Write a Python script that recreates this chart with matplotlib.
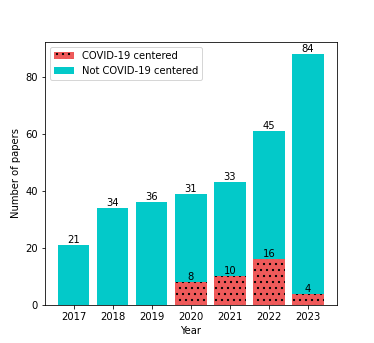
import matplotlib
matplotlib.use("Agg")
import matplotlib.pyplot as plt
import numpy as np

years = ["2017", "2018", "2019", "2020", "2021", "2022", "2023"]
covid = [0, 0, 0, 8, 10, 16, 4]
not_covid = [21, 34, 36, 31, 33, 45, 84]

plt.rcParams['hatch.linewidth'] = 1.0
fig = plt.figure(figsize=(374/72, 343/72), dpi=72)
ax = fig.add_axes([0.12, 0.111, 0.781, 0.767])
x = np.arange(len(years))
red = '#EF5A5A'
cyan = '#03C9C9'
b1 = ax.bar(x, covid, color=red, hatch='..', edgecolor='black', linewidth=0, label='COVID-19 centered')
b2 = ax.bar(x, not_covid, bottom=covid, color=cyan, label='Not COVID-19 centered')
ax.bar_label(b1, labels=[str(v) if v else '' for v in covid], fontsize=10)
ax.bar_label(b2, labels=[str(v) for v in not_covid], fontsize=10)
ax.set_xticks(x)
ax.set_xticklabels(years, fontsize=10)
ax.tick_params(axis='y', labelsize=10)
ax.set_xlabel('Year', fontsize=10)
ax.set_ylabel('Number of papers', fontsize=10)
ax.set_yticks([0, 20, 40, 60, 80])
ax.legend(loc='upper left', fontsize=10)
fig.savefig('out.png', dpi=72)
